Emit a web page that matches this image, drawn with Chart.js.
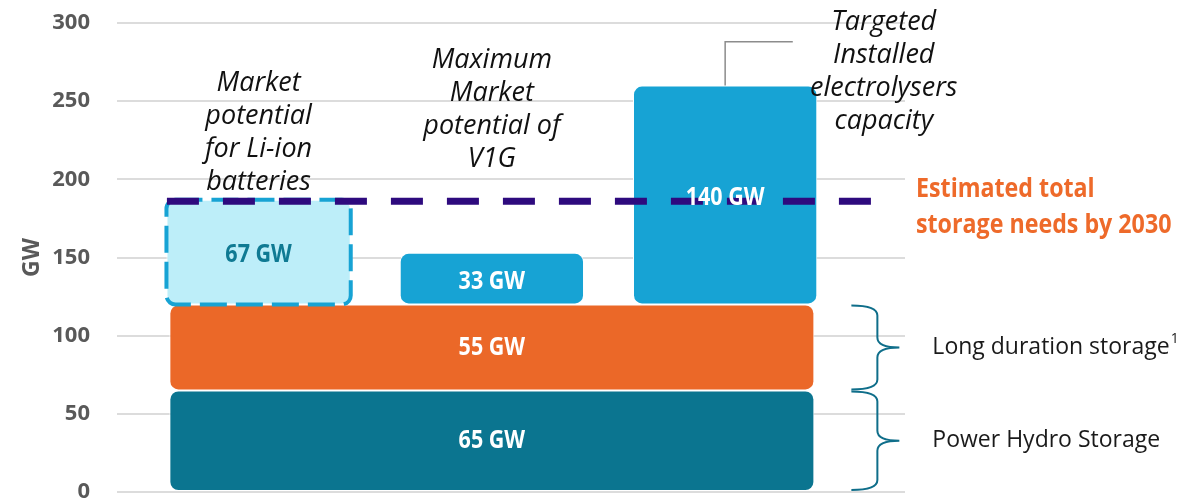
<!DOCTYPE html>
<html>
<head>
<meta charset="utf-8">
<script src="https://cdn.jsdelivr.net/npm/chart.js@4.4.1/dist/chart.umd.min.js"></script>
<style>
    html, body { margin: 0; padding: 0; background: #ffffff; }
    #contenedor { width: 1203px; height: 502px; position: relative; }
</style>
</head>
<body>
<div id="contenedor"><canvas id="Grafico1"></canvas></div>
<script>
// datos del grafico
const baseLayers = ['Power Hydro Storage', 'Long duration storage'];
const baseNotes = ['', '1'];
const baseValues = [65, 55];
const topCategories = ['Li-ion batteries', 'V1G', 'Electrolysers'];
const topValues = [67, 33, 140];
const topSlots = [1, 2, 3];
const totalStorageNeed = 186;
const yTicks = [0, 50, 100, 150, 200, 250, 300];
const captions = [
    ['Market', 'potential', 'for Li-ion', 'batteries'],
    ['Maximum', 'Market', 'potential of', 'V1G'],
    ['Targeted', 'Installed', 'electrolysers', 'capacity']
];

// Open Sans en negrita, comprimida a lo ancho para parecerse a la version condensada
const fuente = '"Open Sans", sans-serif';
const escalaX = 0.86;

const baseColors = ['#0b7590', '#eb6828'];
const topColors = ['#bdeef9', '#17a3d4', '#17a3d4'];
const topLabelColors = ['#0f7a93', '#ffffff', '#ffffff'];

// posiciones de los textos (en unidades de los ejes)
const captionX = [1, 2, 3.68];
const captionBottom = [198, 213, 237];
const connectorTo = { x: 3.29, y: 288 };
const lineSpan = [0.607, 3.626];

const baseTotal = baseValues.reduce((a, b) => a + b, 0);

let acumulado = 0;
let baseDatasets = baseValues.map(function (valor, i) {
    let desde = acumulado;
    acumulado += valor;
    return {
        label: baseLayers[i],
        data: [{ x: topSlots[1], y: [desde, acumulado] }],
        backgroundColor: baseColors[i],
        borderColor: '#ffffff',
        borderWidth: 1,
        borderSkipped: false,
        borderRadius: 9,
        grouped: false,
        categoryPercentage: 1,
        barPercentage: 2.765,
        order: 2
    };
});

let topDataset = {
    label: 'top',
    data: topValues.map((v, i) => ({ x: topSlots[i], y: [baseTotal, baseTotal + v] })),
    backgroundColor: topColors,
    borderColor: '#ffffff',
    borderWidth: 1,
    borderSkipped: false,
    borderRadius: 9,
    grouped: false,
    categoryPercentage: 1,
    barPercentage: 0.79,
    order: 1
};

let lineDataset = {
    type: 'line',
    label: 'Estimated total storage needs by 2030',
    data: [{ x: lineSpan[0], y: totalStorageNeed }, { x: lineSpan[1], y: totalStorageNeed }],
    borderColor: '#2e0a7e',
    borderWidth: 7,
    borderDash: [32, 24],
    borderCapStyle: 'butt',
    pointRadius: 0,
    fill: false,
    order: 0
};

const TOP_INDEX = baseDatasets.length;

function textoAngosto(ctx, texto, x, y) {
    ctx.save();
    ctx.translate(x, y);
    ctx.scale(escalaX, 1);
    ctx.fillText(texto, 0, 0);
    ctx.restore();
}

const anotaciones = {
    id: 'anotaciones',
    afterDatasetDraw(chart, args) {
        if (args.index !== TOP_INDEX) return;
        let el = args.meta.data[0];
        let ctx = chart.ctx;
        ctx.save();
        ctx.setLineDash([27, 9]);
        ctx.lineWidth = 4;
        ctx.strokeStyle = '#17a3d4';
        ctx.beginPath();
        ctx.roundRect(el.x - el.width / 2, el.y, el.width, el.base - el.y, 9);
        ctx.stroke();
        ctx.restore();
    },
    afterDatasetsDraw(chart) {
        let ctx = chart.ctx;
        let xs = chart.scales.x;
        let ys = chart.scales.y;
        ctx.save();
        ctx.textBaseline = 'middle';

        // valores dentro de las barras
        ctx.textAlign = 'center';
        ctx.font = 'bold 25px ' + fuente;
        baseDatasets.forEach((ds, i) => {
            let el = chart.getDatasetMeta(i).data[0];
            ctx.fillStyle = '#ffffff';
            textoAngosto(ctx, baseValues[i] + ' GW', el.x, (el.y + el.base) / 2);
        });
        chart.getDatasetMeta(TOP_INDEX).data.forEach((el, i) => {
            ctx.fillStyle = topLabelColors[i];
            textoAngosto(ctx, topValues[i] + ' GW', el.x, (el.y + el.base) / 2 + 3);
        });

        // textos en cursiva
        ctx.font = 'italic 27px ' + fuente;
        ctx.fillStyle = '#111111';
        captions.forEach((lineas, i) => {
            let x = xs.getPixelForValue(captionX[i]);
            let yUltima = ys.getPixelForValue(captionBottom[i]);
            lineas.forEach((t, j) => {
                ctx.fillText(t, x, yUltima - (lineas.length - 1 - j) * 33);
            });
        });

        // conector de electrolizadores
        let elec = chart.getDatasetMeta(TOP_INDEX).data[2];
        ctx.strokeStyle = '#8c8c8c';
        ctx.lineWidth = 1.5;
        ctx.beginPath();
        ctx.moveTo(elec.x, elec.y);
        ctx.lineTo(elec.x, ys.getPixelForValue(connectorTo.y));
        ctx.lineTo(xs.getPixelForValue(connectorTo.x), ys.getPixelForValue(connectorTo.y));
        ctx.stroke();

        // texto naranja
        let yLinea = ys.getPixelForValue(totalStorageNeed);
        ctx.textAlign = 'left';
        ctx.font = 'bold 27px ' + fuente;
        ctx.fillStyle = '#ee6a2a';
        textoAngosto(ctx, 'Estimated total', chart.chartArea.right + 11, yLinea - 12);
        textoAngosto(ctx, 'storage needs by 2030', chart.chartArea.right + 11, yLinea + 24);

        // llaves y etiquetas de la base
        baseDatasets.forEach((ds, i) => {
            let el = chart.getDatasetMeta(i).data[0];
            let derecha = el.x + el.width / 2;
            let y1 = el.y, y2 = el.base, ym = (y1 + y2) / 2;
            let xl = derecha + 37, xm = derecha + 63, xt = derecha + 85, r = 10;
            ctx.strokeStyle = '#0f6e8a';
            ctx.lineWidth = 2;
            ctx.beginPath();
            ctx.moveTo(xl, y1 + 1);
            ctx.quadraticCurveTo(xm, y1 + 1, xm, y1 + 1 + r);
            ctx.lineTo(xm, ym - r);
            ctx.quadraticCurveTo(xm, ym, xt, ym);
            ctx.moveTo(xt, ym);
            ctx.quadraticCurveTo(xm, ym, xm, ym + r);
            ctx.lineTo(xm, y2 - 1 - r);
            ctx.quadraticCurveTo(xm, y2 - 1, xl, y2 - 1);
            ctx.stroke();

            ctx.font = '23px ' + fuente;
            ctx.fillStyle = '#1a1a1a';
            let tx = derecha + 118;
            ctx.fillText(ds.label, tx, ym);
            if (baseNotes[i]) {
                let w = ctx.measureText(ds.label).width;
                ctx.font = '14px ' + fuente;
                ctx.fillText(baseNotes[i], tx + w + 1, ym - 8);
            }
        });
        ctx.restore();
    }
};

let CanvasG1 = document.getElementById('Grafico1').getContext('2d');
let opciones = {
    responsive: true,
    maintainAspectRatio: false,
    animation: false,
    layout: { padding: { left: 17, right: 298, top: 23, bottom: 10 } },
    plugins: { legend: { display: false }, tooltip: { enabled: false } },
    scales: {
        x: {
            type: 'linear',
            display: false,
            offset: false,
            min: 0.393,
            max: 3.771,
            ticks: { stepSize: 1, includeBounds: false }
        },
        y: {
            min: yTicks[0],
            max: yTicks[yTicks.length - 1],
            afterFit: function (s) {
                s.width = 100;
                s.paddingTop = 0;
                s.paddingBottom = 0;
            },
            ticks: {
                stepSize: yTicks[1] - yTicks[0],
                padding: 27,
                color: '#595959',
                font: { family: fuente, size: 22, weight: 'bold' }
            },
            grid: { color: '#dcdcdc', lineWidth: 2, drawTicks: false },
            border: { display: false },
            title: {
                display: true,
                text: 'GW',
                color: '#595959',
                padding: { top: 2, bottom: 4 },
                font: { family: fuente, size: 23, weight: 'bold' }
            }
        }
    }
};

let G1 = new Chart(CanvasG1, {
    type: 'bar',
    data: { datasets: [...baseDatasets, topDataset, lineDataset] },
    options: opciones,
    plugins: [anotaciones]
});
</script>
</body>
</html>
